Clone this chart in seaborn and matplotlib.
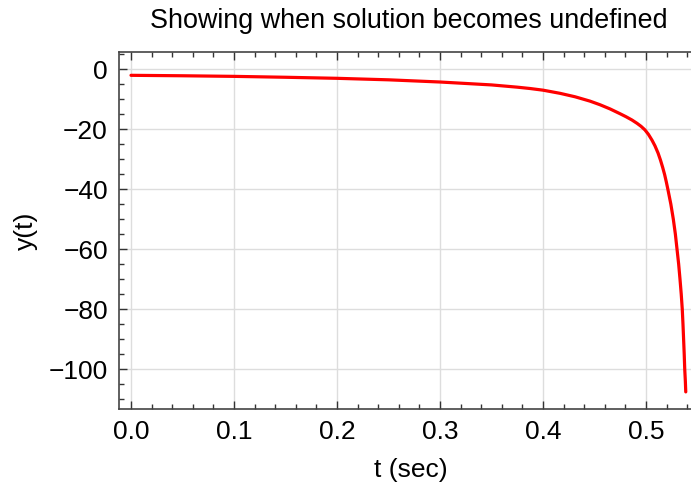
import matplotlib
matplotlib.use("Agg")
import matplotlib.pyplot as plt
import seaborn as sns
import pandas as pd
from matplotlib.ticker import MultipleLocator, AutoMinorLocator, FormatStrFormatter

# Data
t_values = [0.0, 0.05, 0.1, 0.15, 0.2, 0.25, 0.3, 0.35, 0.375, 0.3875, 0.4,
            0.4165, 0.4311, 0.4456, 0.4553, 0.4651, 0.4748, 0.4806, 0.4864,
            0.4913, 0.4952, 0.4990, 0.5024, 0.5058, 0.5087, 0.5117, 0.5141,
            0.5162, 0.5181, 0.5197, 0.5213, 0.5241, 0.5265, 0.5285, 0.5301,
            0.5317, 0.5330, 0.5342, 0.5352, 0.5359, 0.5365, 0.5371, 0.5376,
            0.5382, 0.5386]
y_values = [-2.1, -2.25, -2.45, -2.75, -3.1, -3.6, -4.33, -5.3, -6.05, -6.5, -7.05,
            -8.1, -9.25, -10.7, -11.9, -13.3, -14.9, -15.9, -17.0,
            -18.1, -19.1, -20.3, -21.8, -23.7, -25.6, -28.0, -30.4,
            -32.8, -35.2, -37.6, -40.2, -45.0, -50.0, -55.0, -60.0,
            -65.0, -70.0, -75.0, -80.0, -85.0, -90.0, -95.0, -100.0,
            -104.0, -107.6]

title_text = "Showing when solution becomes undefined"
x_label = "t (sec)"
y_label = "y(t)"

sns.set_style("ticks")
plt.rcParams["font.family"] = ["Liberation Sans", "DejaVu Sans"]
plt.rcParams["axes.unicode_minus"] = True
plt.rcParams["text.color"] = "black"
plt.rcParams["axes.labelcolor"] = "black"
plt.rcParams["xtick.labelcolor"] = "black"
plt.rcParams["ytick.labelcolor"] = "black"

df = pd.DataFrame({"t": t_values, "y": y_values})

W, H = 691, 493
left_px, right_px, top_px, bottom_px = 119, 702, 52, 409
fig = plt.figure(figsize=(W / 100, H / 100), dpi=100)
ax = fig.add_axes([left_px / W, 1 - bottom_px / H,
                   (right_px - left_px) / W, (bottom_px - top_px) / H])

sns.lineplot(data=df, x="t", y="y", ax=ax, color="#ff0000", linewidth=2.3,
             sort=False, estimator=None)

ax.set_xlim((left_px - 131) / 1030, (right_px - 131) / 1030)
ax.set_ylim(-113.3, 5.67)
ax.xaxis.set_major_locator(MultipleLocator(0.1))
ax.xaxis.set_minor_locator(AutoMinorLocator(5))
ax.yaxis.set_major_locator(MultipleLocator(20))
ax.yaxis.set_minor_locator(AutoMinorLocator(4))
ax.xaxis.set_major_formatter(FormatStrFormatter("%.1f"))

ax.grid(True, which="major", color="#dddddd", linewidth=1.0)
ax.set_axisbelow(True)
ax.tick_params(which="both", direction="in", top=True, right=True,
               labelsize=19, color="#333333")
ax.tick_params(which="major", length=6, width=1.0, pad=8)
ax.tick_params(which="minor", length=3.5, width=1.0)
for s in ax.spines.values():
    s.set_color("#444444")
    s.set_linewidth(1.2)

ax.set_xlabel(x_label, fontsize=19, labelpad=10)
ax.set_ylabel(y_label, fontsize=19, labelpad=8)
ax.set_title(title_text, fontsize=19.4, pad=17, x=0.497)

fig.savefig("out.png", dpi=100)
